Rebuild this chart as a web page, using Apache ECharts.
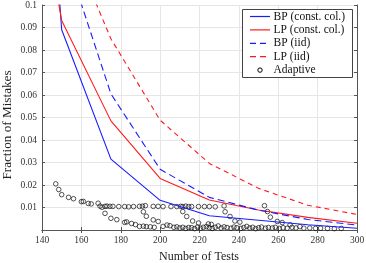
<!DOCTYPE html>
<html><head><meta charset="utf-8">
<script src="https://cdn.jsdelivr.net/npm/echarts@6/dist/echarts.min.js"></script>
<style>html,body{margin:0;padding:0;background:#fff}#c{width:366px;height:263px}</style>
</head><body><div id="c"></div>
<script>
const xTests = [125, 150, 175, 200, 225, 250, 275, 300];
const bpConst = [0.39, 0.089, 0.0315, 0.0132, 0.0063, 0.0043, 0.0023, 0.0008];
const lpConst = [0.216, 0.0931, 0.0485, 0.0229, 0.0133, 0.0089, 0.0056, 0.0030];
const bpIid = [0.25, 0.127, 0.0605, 0.0270, 0.0145, 0.0088, 0.0047, 0.0022];
const lpIid = [0.26, 0.137, 0.085, 0.0488, 0.0296, 0.0185, 0.0110, 0.0069];
const adaptiveX = [147,148.5,150,153.5,156,160,161,163.5,165,168.5,169.5,170.5,172,173,174.5,176,179,182,184,186.5,189.5,191,192.5,196.5,199,201.5,205.5,208.5,210.5,211.5,213,214.5,216,219.5,222.5,225,228,232.5,
 172,175,178,182,183,185.5,187.5,191.5,193,196.5,199,211.5,213.5,216.5,219.5,224.5,226,233,235.5,238,240.5,253,254.5,256,259.5,262,266,
 189.5,191.5,193,195,197,201.5,203.5,205,207,208.5,210,211.5,213,214.5,216,217.5,219,220.5,222,223.5,225,226.5,228,229.5,231,232.5,234,236,237.5,239,241,242.5,244,245.5,247,248.5,250,251.5,253.5,255,257,258.5,260.5,262.5,264.5,267,269,271,273,276,279,281.5,285,288.5,292];
const adaptiveY = [0.0205,0.018,0.0157,0.0145,0.0139,0.0126,0.0127,0.0118,0.0116,0.0119,0.0106,0.0101,0.0105,0.0106,0.0105,0.0105,0.0104,0.0104,0.0103,0.0104,0.0105,0.0106,0.0108,0.0105,0.0105,0.0104,0.0104,0.0104,0.0105,0.0104,0.0106,0.0104,0.0104,0.0104,0.0104,0.0104,0.0103,0.0107,
 0.0074,0.0052,0.0046,0.0034,0.0036,0.0029,0.0024,0.0081,0.0061,0.0045,0.0038,0.0082,0.0060,0.0040,0.0031,0.0027,0.0025,0.0081,0.0060,0.0040,0.0035,0.0108,0.0082,0.0057,0.0038,0.0033,0.0023,
 0.0016,0.0017,0.0015,0.0014,0.0012,0.0016,0.0022,0.0019,0.0012,0.0014,0.0009,0.0012,0.0007,0.0011,0.0010,0.0006,0.0013,0.0008,0.0012,0.0015,0.0010,0.0007,0.0012,0.0018,0.0009,0.0014,0.0011,0.0008,0.0013,0.0010,0.0007,0.0011,0.0016,0.0009,0.0012,0.0006,0.0010,0.0013,0.0008,0.0011,0.0009,0.0012,0.0007,0.0010,0.0008,0.0012,0.0009,0.0015,0.0008,0.0009,0.0007,0.0008,0.0007,0.0006,0.0007];
const seriesNames = ['BP (const. col.)', 'LP (const. col.)', 'BP (iid)', 'LP (iid)', 'Adaptive'];
const xTitle = 'Number of Tests';
const yTitle = 'Fraction of Mistakes';

const BLUE = '#1a1aff', RED = '#ff1a1a';
const FONT = '"Liberation Serif","DejaVu Serif",serif';
const pairs = (ys) => xTests.map((x, i) => [x, ys[i]]);
const chart = echarts.init(document.getElementById('c'), null, {renderer: 'canvas'});

const legendRows = [
  {name: seriesNames[0], color: BLUE, dash: null},
  {name: seriesNames[1], color: RED, dash: null},
  {name: seriesNames[2], color: BLUE, dash: [6, 4]},
  {name: seriesNames[3], color: RED, dash: [6, 4]},
  {name: seriesNames[4], circle: true}
];
const lg = [];
lg.push({type: 'rect', shape: {x: 242.5, y: 9.5, width: 110, height: 68}, style: {fill: '#fff', stroke: '#444', lineWidth: 1}, z: 100});
legendRows.forEach((r, i) => {
  const y = 16.5 + i * 13.4;
  if (r.circle) {
    lg.push({type: 'circle', shape: {cx: 260, cy: y, r: 2.2}, style: {fill: 'none', stroke: '#000', lineWidth: 1}, z: 101});
  } else {
    lg.push({type: 'line', shape: {x1: 250, y1: y, x2: 270, y2: y}, style: {stroke: r.color, lineWidth: 1.2, lineDash: r.dash}, z: 101});
  }
  lg.push({type: 'text', x: 273.5, y: y, style: {text: r.name, fill: '#111', font: '11.5px ' + FONT, verticalAlign: 'middle'}, z: 101});
});
lg.push({type: 'text', x: 199, y: 256.5, style: {text: xTitle, fill: '#222', font: '12px ' + FONT, align: 'center', verticalAlign: 'middle'}});
lg.push({type: 'text', x: 7.5, y: 125, rotation: Math.PI / 2, style: {text: yTitle, fill: '#222', font: '13.2px ' + FONT, align: 'center', verticalAlign: 'middle'}});

const axisCommon = {
  axisLine: {show: true, lineStyle: {color: '#555', width: 1}},
  axisTick: {show: true, inside: true, length: 3, lineStyle: {color: '#555'}},
};

chart.setOption({
  animation: false,
  backgroundColor: '#fff',
  grid: {left: 42, right: 9, top: 5, bottom: 33, show: false, containLabel: false, outerBoundsMode: 'none'},
  xAxis: [{
    type: 'value', min: 140, max: 300, interval: 20, position: 'bottom',
    ...axisCommon,
    axisLabel: {color: '#333', fontFamily: FONT, fontSize: 9.5, margin: 5},
    splitLine: {show: true, lineStyle: {color: '#e6e6e6', width: 1}}
  }, {
    type: 'value', min: 140, max: 300, interval: 20, position: 'top',
    ...axisCommon, axisLabel: {show: false}, splitLine: {show: false}
  }],
  yAxis: [{
    type: 'value', min: 0, max: 0.1, interval: 0.01, position: 'left',
    ...axisCommon,
    axisLabel: {color: '#333', fontFamily: FONT, fontSize: 9.5, margin: 5,
      formatter: (v) => v === 0 ? '' : String(+v.toFixed(2))},
    splitLine: {show: true, lineStyle: {color: '#e6e6e6', width: 1}}
  }, {
    type: 'value', min: 0, max: 0.1, interval: 0.01, position: 'right',
    ...axisCommon, axisLabel: {show: false}, splitLine: {show: false}
  }],
  series: [
    {name: seriesNames[4], type: 'scatter', data: adaptiveX.map((x, i) => [x, adaptiveY[i]]),
      symbol: 'circle', symbolSize: 4.6,
      itemStyle: {color: 'rgba(255,255,255,0)', borderColor: '#111', borderWidth: 0.9}, z: 3},
    {name: seriesNames[0], type: 'line', data: pairs(bpConst), symbol: 'none', clip: true,
      lineStyle: {color: BLUE, width: 1.1}, z: 4},
    {name: seriesNames[1], type: 'line', data: pairs(lpConst), symbol: 'none', clip: true,
      lineStyle: {color: RED, width: 1.1}, z: 4},
    {name: seriesNames[2], type: 'line', data: pairs(bpIid), symbol: 'none', clip: true,
      lineStyle: {color: BLUE, width: 1.1, type: [7, 4]}, z: 4},
    {name: seriesNames[3], type: 'line', data: pairs(lpIid), symbol: 'none', clip: true,
      lineStyle: {color: RED, width: 1.1, type: [5, 4]}, z: 4}
  ],
  graphic: lg
});
</script></body></html>
